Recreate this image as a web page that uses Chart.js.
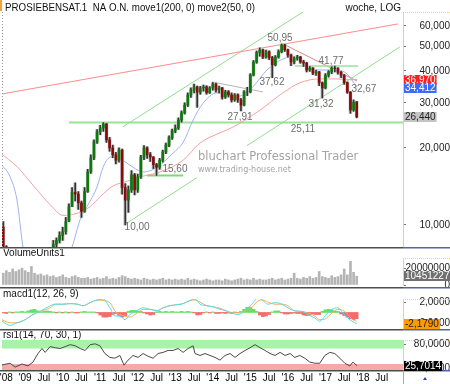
<!DOCTYPE html>
<html>
<head>
<meta charset="utf-8">
<script src="https://cdn.jsdelivr.net/npm/chart.js@4.4.1/dist/chart.umd.min.js"></script>
<style>
  html, body { margin: 0; padding: 0; background: #fff; }
  #wrap { position: relative; width: 450px; height: 384px; overflow: hidden; }
  #wrap canvas { position: absolute; left: 0; }
</style>
</head>
<body>
<div id="wrap">
  <canvas id="priceChart" width="450" height="249" style="top:0"></canvas>
  <canvas id="volChart" width="450" height="40" style="top:249px"></canvas>
  <canvas id="macdChart" width="450" height="42" style="top:289px"></canvas>
  <canvas id="rsiChart" width="450" height="53" style="top:331px"></canvas>
</div>
<script>
const FONT = '"Liberation Sans", Arial, sans-serif';
Chart.defaults.font.family = FONT;
Chart.defaults.font.size = 10;
Chart.defaults.color = "#222";

// months counted from Jan 2008 (0 = Jan '08), one candle per month from Jun 2008
const startMonth = 5;
const firstOpen = 9.8;
const closes = [
  8.2, 6.5, 5.8, 4.8, 3.2, 2.2, 2.6, 1.9, 1.1, 1.3, 2.1, 3.0, 3.4, 4.3, 5.6, 6.9,
  8.4, 8.7, 9.1, 9.4, 10.3, 11.8, 13.4, 13.2, 12.2, 11.3,
  13.5, 16.1, 18.3, 21.1, 23.1, 23.9, 24.8, 21.5, 20.0, 18.8,
  17.9, 19.6, 14.0, 12.5, 13.7, 15.7, 13.7, 15.4, 18.4, 20.0,
  18.8, 18.4, 17.2, 16.8, 17.9, 19.3, 20.5, 21.9, 23.3, 23.9,
  25.7, 27.4, 29.4, 32.2, 33.7, 34.6, 33.0, 34.3, 34.6, 32.9,
  34.3, 35.5, 33.7, 34.3, 31.6, 33.1, 32.2, 30.8, 32.2, 30.8,
  29.4, 33.1, 33.1, 38.5, 43.3, 47.1, 48.3, 45.3, 47.5, 45.0,
  42.2, 45.3, 47.5, 50.5, 48.3, 46.1, 43.3, 44.8, 45.3, 43.3,
  42.9, 40.3, 41.0, 39.2, 39.6, 35.9, 34.3, 38.5, 39.6, 41.0,
  40.8, 39.5, 38.5, 36.0, 33.0, 28.1, 30.2, 26.44
];
const highs = [
  10.3, 8.3, 6.9, 6.1, 5.0, 3.4, 2.9, 2.8, 2.0, 1.5, 2.3, 3.2, 3.7, 4.5, 5.8, 7.2,
  8.7, 8.9, 9.4, 9.8, 10.7, 12.1, 14.0, 14.6, 13.5, 12.4,
  14.0, 16.5, 18.8, 21.5, 23.6, 24.5, 25.11, 24.9, 22.0, 20.5,
  19.2, 20.0, 19.8, 14.5, 14.2, 16.3, 15.9, 15.8, 18.7, 20.4,
  20.2, 19.2, 18.5, 17.4, 18.2, 19.6, 20.9, 22.3, 23.7, 24.6,
  26.2, 27.9, 30.0, 32.8, 34.3, 35.5, 34.9, 34.8, 35.2, 35.0,
  34.7, 36.0, 35.8, 34.9, 34.5, 33.6, 33.5, 32.8, 32.6, 32.5,
  31.2, 33.5, 34.5, 39.0, 43.9, 47.8, 49.2, 48.6, 48.2, 47.9,
  45.6, 45.9, 48.3, 50.95, 50.8, 48.6, 46.5, 45.4, 46.0, 45.6,
  44.0, 43.2, 41.6, 41.2, 40.2, 39.8, 36.2, 39.0, 40.1, 41.5,
  41.77, 41.2, 39.8, 38.7, 36.2, 33.2, 30.8, 30.4
];
const lows = [
  8.0, 6.2, 5.3, 4.5, 3.0, 2.0, 1.9, 1.7, 0.9, 1.0, 1.3, 2.0, 2.9, 3.3, 4.2, 5.5,
  6.8, 8.1, 8.5, 8.7, 9.2, 10.4, 11.8, 12.4, 11.5, 10.7,
  11.2, 13.4, 15.9, 18.0, 20.8, 22.5, 23.2, 21.0, 19.4, 18.3,
  17.3, 17.6, 13.2, 10.0, 11.2, 13.4, 13.1, 13.4, 15.2, 18.0,
  18.2, 17.7, 16.6, 15.6, 16.5, 17.6, 19.0, 20.2, 21.6, 22.9,
  23.6, 25.2, 27.1, 29.0, 31.5, 32.8, 28.8, 32.4, 33.3, 32.4,
  32.6, 33.6, 33.0, 32.8, 31.0, 31.2, 31.6, 30.2, 30.4, 30.1,
  27.91, 29.2, 32.0, 32.8, 38.2, 42.8, 45.6, 44.6, 44.8, 44.2,
  37.62, 41.8, 44.8, 47.0, 47.6, 45.2, 41.9, 42.6, 44.0, 42.8,
  41.6, 39.6, 39.8, 38.6, 38.4, 35.0, 31.32, 34.0, 37.8, 39.0,
  39.6, 38.8, 37.6, 35.4, 32.67, 27.3, 27.8, 26.2
];
// volume in millions of units
const volumes = [
  14, 17, 15, 19, 16, 18, 20, 17, 15, 22, 14, 12, 13, 11, 12, 10,
  11, 9, 10, 12, 9, 8, 10, 11, 9, 8,
  8, 9, 7, 8, 9, 7, 8, 10, 7, 8, 7, 9, 11, 10, 8,
  7, 8, 7, 6, 8, 7, 6, 7, 6, 7, 8, 6, 7, 6, 7,
  6, 7, 6, 8, 6, 7, 6, 5, 6, 7, 6, 5, 6, 6, 5, 7, 6, 5, 6, 7,
  8, 6, 7, 6, 8, 6, 7, 6, 6, 7, 8, 6, 7, 8, 6, 7, 8,
  14, 8, 7, 9, 8, 10, 8, 9, 16, 10, 9, 8, 11, 9, 10, 12, 19, 12, 28, 15, 10.451227
];
const macdHist = [
  -0.1, -0.2, 0.1, -0.1, 0.1, 0.1, 0.2, 0.1, 0.3, 0.5, 0.6, 0.3, 0.1, 0.2, 0.3, 0.2,
  0.1, -0.1, 0.1, -0.1, 0.1, -0.1, 0.1, -0.1, -0.1, 0.1,
  0.2, 0.1, 0.1, 0.1, -0.1, -0.5, -0.9, -0.9, -0.8, -0.4, -0.2, -0.6, -0.9, -0.7, 0.2,
  0.4, 0.4, 0.3, 0.2, -0.1, -0.3, -0.5, -0.4, 0.1, 0.2, 0.1, 0.2, 0.1, 0.2, 0.1,
  0.1, 0.2, 0.1, 0.2, 0.1, -0.1, -0.5, -0.4, -0.1, 0.1, -0.1, 0.1, -0.2, -0.2, -0.1, -0.2, -0.1, -0.2, 0.1, -0.1,
  0.2, 0.6, 1.0, 1.0, 0.6, 0.2, -0.5, -0.8, -0.7, -0.4, 0.1, 0.3, 0.3, -0.1, -0.3, -0.3, -0.2,
  -0.1, -0.2, -0.2, -0.5, -0.6, -0.5, -0.3, -0.4, -0.4, 0.2, 0.5, 0.6, 0.5, 0.3, 0.2, -0.3, -0.6, -0.9, -1.2, -1.4, -1.2
];

const ma200Months = [4, 9.4, 14.5, 20, 24.1, 28.6, 32.8, 36, 40.1, 44.6, 48.7, 55.1, 62.5, 67.9, 74.3, 78.4, 87.1, 94.4, 99.8, 106.2, 111.7, 115.8, 118.1];
const ma200Values = [19.1, 16.9, 14.3, 12.0, 10.9, 11.1, 11.8, 12.9, 14.2, 14.8, 15.4, 16.1, 17.9, 20.9, 22.9, 24.1, 28.1, 32.8, 35.9, 37.2, 37.2, 36.9, 36.97];
const ma50Months = [4, 7.2, 9.4, 11.3, 15.2, 21.6, 27, 29.6, 31.8, 35, 36.9, 39.1, 41.4, 43.3, 46.5, 49.7, 54.2, 59.3, 62.5, 65.7, 68.9, 73.3, 78.4, 81.6, 84.8, 89.3, 94.4, 97.6, 100.8, 106.2, 111.7, 114.9, 118.1];
const ma50Values = [17.4, 15.4, 12.5, 8.2, 5.0, 5.8, 8.2, 10.5, 11.8, 14.1, 16.8, 18.4, 18.6, 17.9, 16.8, 16.1, 16.8, 19.1, 21.0, 25.7, 29.9, 32.8, 31.6, 32.2, 34.6, 40.3, 44.5, 45.3, 42.9, 40.3, 40.3, 38.9, 34.412];

const macdMonths = [4.6, 7.2, 9.4, 12, 14.5, 16.8, 20, 21.6, 24.1, 26.4, 28.6, 30.5, 32.8, 35, 36.9, 39.1, 40.7, 42.3, 43.9, 45.5, 47.8, 49.7, 51.9, 54.2, 56.1, 58.3, 60.5, 62.5, 64.7, 66.3, 67.9, 70.1, 72, 74.3, 75.9, 78.1, 80, 82.3, 84.5, 86.4, 88, 89.6, 91.9, 94.1, 96, 98.2, 100.5, 102.4, 104.6, 106.2, 107.8, 110.1, 112, 113.6, 115.2, 116.5, 118];
const macdValues = [-1.7, -2.5, -2.0, -1.4, -0.4, 0.2, 1.3, 1.6, 1.6, 1.7, 1.6, 1.3, 1.9, 2.4, 2.6, 0.9, -0.7, -0.7, -1.4, -0.4, 0.4, 0.9, 0.6, 0.3, 0.9, 1.3, 1.5, 1.7, 2.3, 2.6, 1.6, 1.3, 1.1, 0.6, 0.4, -0.1, -0.4, 0.3, 1.6, 2.8, 2.3, 1.6, 1.9, 1.6, 0.9, 0.3, 0.2, -0.4, -1.1, -1.7, -0.7, 0.6, 0.9, -0.1, -1.1, -1.7, -2.179];
const signalValues = [-1.4, -2.0, -2.0, -1.4, -0.4, 0.2, 0.9, 1.6, 1.6, 1.7, 1.6, 1.3, 1.9, 2.4, 2.3, 1.9, 0.3, -0.4, -0.7, -0.9, -0.1, 0.6, 0.6, 0.4, 0.9, 1.3, 1.5, 1.7, 2.3, 2.4, 2.0, 1.3, 1.1, 0.8, 0.4, -0.1, 0, 0.3, 1.0, 2.2, 2.4, 2.0, 1.6, 1.6, 1.3, 0.3, 0.2, -0.1, -0.7, -1.4, -1.3, -0.1, 0.6, 0.4, -0.4, -1.3, -1.7];

const rsiMonths = [4.6, 7.2, 8.8, 11.0, 12.9, 14.5, 16.1, 17.4, 18.4, 20.0, 21.6, 23.2, 24.8, 26.4, 28.0, 29.6, 31.2, 32.8, 34.4, 35.9, 37.5, 39.1, 40.7, 42.3, 43.6, 44.9, 46.5, 48.1, 49.7, 51.3, 52.9, 54.5, 56.1, 57.7, 59.3, 60.9, 62.5, 64.1, 65.7, 66.3, 67.9, 69.5, 71.1, 72.7, 74.3, 75.9, 77.5, 79.1, 80.7, 82.3, 83.9, 85.5, 87.1, 88.7, 90.3, 91.9, 93.5, 95.1, 96.7, 98.2, 99.8, 101.4, 103.0, 104.6, 106.2, 107.8, 109.4, 111.0, 112.6, 114.2, 115.8, 116.8, 118.1];
const rsiValues = [27.5, 32, 22, 30, 25, 35, 57, 70, 60, 75, 72, 70, 75, 80, 77, 70, 65, 80, 82, 77, 57, 47, 45, 52, 27, 40, 52, 47, 57, 50, 45, 57, 60, 65, 65, 70, 60, 70, 77, 57, 52, 57, 52, 47, 40, 52, 57, 47, 57, 65, 72, 80, 72, 65, 57, 52, 60, 52, 57, 47, 52, 45, 35, 32, 32, 52, 60, 57, 45, 32, 25, 35, 25.7014];

// drawn trend lines: [month, price] end points
const redTrend = [[4.6, 32.5], [131.2, 61.0]];
const greenUpper = [[43.3, 24.2], [100.8, 67.9]];
const greenLowerA = [[43.6, 10.0], [66.9, 15.3]];
const greenLowerB = [[82.9, 20.4], [131.8, 49.6]];
const level2511 = [[26.0, 25.11], [132.8, 25.11]];
const level1560 = [[51.0, 15.60], [62.5, 15.60]];
const level4177 = [[98.2, 41.77], [118.4, 41.77]];
const grayResist = [[71.7, 36.2], [88.0, 33.1]];
const downTrend = [[94.4, 51.0], [118.1, 36.5]];
const priceNotes = [
  ["50,95", 93.5, 53.8], ["37,62", 90.9, 36.2], ["27,91", 80.7, 26.4],
  ["41,77", 109.8, 43.7], ["31,32", 106.6, 29.7], ["32,67", 120.3, 34.0],
  ["25,11", 100.8, 23.7], ["15,60", 59.9, 16.55], ["10,00", 47.8, 9.82]
];

const priceTicks = [10, 20, 30, 40, 50, 60];
const xTickMonths = [6, 12, 18, 24, 30, 36, 42, 48, 54, 60, 66, 72, 78, 84, 90, 96, 102, 108, 114, 120, 126];
const xTickLabels = ["'08", "'09", "Jul", "'10", "Jul", "'11", "Jul", "'12", "Jul", "'13", "Jul", "'14", "Jul", "'15", "Jul", "'16", "Jul", "'17", "Jul", "'18", "Jul"];
const xMin = 4.6, xMax = 132.8;

const months = closes.map((c, i) => startMonth + i);
const opens = closes.map((c, i) => (i === 0 ? firstOpen : closes[i - 1]));
const pts = (xs, ys) => xs.map((x, i) => ({ x: x, y: ys[i] }));
const seg = (p) => p.map((q) => ({ x: q[0], y: q[1] }));
const fmt = (v, d) => v.toFixed(d).replace(".", ",");

const xHidden = { type: "linear", min: xMin, max: xMax, offset: false, display: false };
const yRight = (extra) => Object.assign({
  position: "right",
  afterFit: (a) => { a.width = 47; a.paddingTop = 0; a.paddingBottom = 0; },
  border: { display: true, color: "#e6d38c", dash: [1, 1] },
  grid: { drawOnChartArea: false, tickLength: 3, color: "#777" },
}, extra);

const panelDeco = {
  id: "panelDeco",
  beforeDatasetsDraw(chart, args, o) {
    if (!o.bands) return;
    const { ctx, chartArea: a, scales: { y } } = chart;
    o.bands.forEach((b) => {
      const y1 = y.getPixelForValue(Math.min(b[1], y.max));
      const y2 = y.getPixelForValue(Math.max(b[0], y.min));
      ctx.fillStyle = b[2];
      ctx.fillRect(a.left, y1, a.right - a.left, y2 - y1);
    });
  },
  afterDraw(chart, args, o) {
    const { ctx, chartArea: a, width, scales: { y } } = chart;
    ctx.save();
    ctx.strokeStyle = "#e6d38c";
    ctx.lineWidth = 1;
    ctx.setLineDash([1, 1]);
    ctx.beginPath(); ctx.moveTo(a.right, a.top + 0.5); ctx.lineTo(width, a.top + 0.5); ctx.stroke();
    ctx.setLineDash([]);
    ctx.lineWidth = 1.5;
    ctx.strokeStyle = "#4d4d4d";
    ctx.beginPath(); ctx.moveTo(0, o.sepY); ctx.lineTo(a.right, o.sepY); ctx.stroke();
    ctx.strokeStyle = "#5663a8";
    ctx.beginPath(); ctx.moveTo(a.right, o.sepY); ctx.lineTo(width, o.sepY); ctx.stroke();
    ctx.font = "10px " + FONT;
    ctx.textBaseline = "middle";
    ctx.textAlign = "left";
    if (o.label) { ctx.fillStyle = "#111"; ctx.fillText(o.label, 3, o.labelY); }
    (o.boxes || []).forEach((b) => {
      const py = Math.round(y.getPixelForValue(b.value));
      const w = ctx.measureText(b.text).width + 2;
      ctx.fillStyle = b.bg;
      ctx.fillRect(a.right + 1, py - 5, w, 10);
      ctx.fillStyle = b.fg;
      ctx.fillText(b.text, a.right + 2, py + 0.5);
    });
    if (o.footer) {
      ctx.strokeStyle = "#aaa";
      ctx.lineWidth = 1;
      ctx.beginPath(); ctx.moveTo(a.right + 0.5, o.sepY); ctx.lineTo(a.right + 0.5, chart.height); ctx.stroke();
      ctx.fillStyle = "#2244cc";
      ctx.beginPath(); ctx.moveTo(425, 46); ctx.lineTo(427, 49); ctx.lineTo(423, 49); ctx.closePath(); ctx.fill();
    }
    ctx.restore();
  },
};

const priceDeco = {
  id: "priceDeco",
  afterDatasetsDraw(chart) {
    const { ctx, scales: { x, y } } = chart;
    ctx.save();
    ctx.font = "10px " + FONT;
    ctx.fillStyle = "#6e6e6e";
    ctx.textAlign = "center";
    ctx.textBaseline = "middle";
    priceNotes.forEach((n) => ctx.fillText(n[0], x.getPixelForValue(n[1]), y.getPixelForValue(n[2])));
    ctx.textAlign = "left";
    ctx.fillStyle = "#a4a4a4";
    ctx.font = '11.5px "DejaVu Sans", sans-serif';
    ctx.fillText("bluchart Professional Trader", 198, 157);
    ctx.font = '8px "DejaVu Sans", sans-serif';
    ctx.fillText("www.trading-house.net", 198, 170);
    ctx.restore();
  },
  afterDraw(chart) {
    const { ctx, chartArea: a } = chart;
    ctx.save();
    ctx.fillStyle = "#f2a33a";
    ctx.fillRect(0, 0, 2, 11);
    ctx.strokeStyle = "#9a9a9a";
    ctx.setLineDash([1, 2]);
    ctx.beginPath(); ctx.moveTo(2.5, a.top); ctx.lineTo(2.5, a.bottom); ctx.stroke();
    ctx.setLineDash([]);
    ctx.font = "10px " + FONT;
    ctx.fillStyle = "#111";
    ctx.textBaseline = "middle";
    ctx.textAlign = "left";
    ctx.fillText("PROSIEBENSAT.1  NA O.N. move1(200, 0) move2(50, 0)", 5, 8, 250);
    ctx.textAlign = "right";
    ctx.fillText("woche, LOG", 401, 8);
    ctx.restore();
  },
};

const lineDs = (data, color, width, order, smooth) => ({
  type: "line", data: data, borderColor: color, borderWidth: width, pointRadius: 0,
  fill: false, order: order, cubicInterpolationMode: smooth ? "monotone" : "default", tension: 0,
});

const baseOpts = {
  responsive: false, animation: false, events: [], devicePixelRatio: 1,
  plugins: { legend: { display: false }, tooltip: { enabled: false } },
};
const yTickFont = (cb) => ({ crossAlign: "far", color: "#222", font: { size: 10 }, callback: cb });

new Chart(document.getElementById("priceChart"), {
  type: "bar",
  data: {
    datasets: [
      { data: months.map((m, i) => ({ x: m, y: [opens[i], closes[i]] })), barThickness: 2, grouped: false, order: 1,
        backgroundColor: closes.map((c, i) => (c >= opens[i] ? "#0b7a0b" : "#8b0a0a")) },
      { data: months.map((m, i) => ({ x: m, y: [lows[i], highs[i]] })), barThickness: 1, grouped: false, order: 2, backgroundColor: "#333" },
      { data: months.map((m, i) => ({ x: m, y: [lows[i], highs[i]] })), barThickness: 3, grouped: false, order: 3, backgroundColor: "#c8c8c8" },
      lineDs(pts(ma50Months, ma50Values), "#9db2f5", 1, 4, true),
      lineDs(pts(ma200Months, ma200Values), "#f7a0a0", 1, 5, true),
      lineDs(seg(redTrend), "#ff8a8a", 1, 6),
      lineDs(seg(greenUpper), "#8fdc8f", 1, 6),
      lineDs(seg(greenLowerA), "#8fdc8f", 1, 6),
      lineDs(seg(greenLowerB), "#8fdc8f", 1, 6),
      lineDs(seg(level2511), "#96e596", 2, 6),
      lineDs(seg(level1560), "#7ad87a", 2, 6),
      lineDs(seg(level4177), "#96e596", 1.5, 6),
      lineDs(seg(grayResist), "#b5b5b5", 1, 6),
      lineDs(seg(downTrend), "#d48a8a", 1, 6),
    ],
  },
  options: Object.assign({}, baseOpts, {
    layout: { padding: { left: 2, right: 0, top: 12, bottom: 2 } },
    scales: {
      x: xHidden,
      y: yRight({
        type: "logarithmic", min: 8.2, max: 67.9,
        afterBuildTicks: (a) => { a.ticks = priceTicks.map((v) => ({ value: v })); },
        ticks: yTickFont((v) => fmt(v, 3)),
      }),
    },
    plugins: Object.assign({}, baseOpts.plugins, {
      panelDeco: {
        sepY: 247.75,
        boxes: [
          { value: ma200Values[ma200Values.length - 1], text: fmt(ma200Values[ma200Values.length - 1], 3), bg: "#ff1e1e", fg: "#fff" },
          { value: ma50Values[ma50Values.length - 1], text: fmt(ma50Values[ma50Values.length - 1], 3), bg: "#3a6cff", fg: "#fff" },
          { value: closes[closes.length - 1], text: fmt(closes[closes.length - 1], 3), bg: "#c4c4c4", fg: "#222" },
        ],
      },
    }),
  }),
  plugins: [panelDeco, priceDeco],
});

new Chart(document.getElementById("volChart"), {
  type: "bar",
  data: { datasets: [{ data: pts(months, volumes), barThickness: 2, backgroundColor: "#b4b4b4" }] },
  options: Object.assign({}, baseOpts, {
    layout: { padding: { left: 2, right: 0, top: 9, bottom: 4 } },
    scales: {
      x: xHidden,
      y: yRight({
        min: 0, max: 32,
        afterBuildTicks: (a) => { a.ticks = [0, 20].map((v) => ({ value: v })); },
        ticks: yTickFont((v) => String(v * 1000000)),
      }),
    },
    plugins: Object.assign({}, baseOpts.plugins, {
      panelDeco: {
        sepY: 38.75, label: "VolumeUnits1", labelY: 4.5,
        boxes: [{ value: volumes[volumes.length - 1], text: String(Math.round(volumes[volumes.length - 1] * 1000000)), bg: "#707070", fg: "#fff" }],
      },
    }),
  }),
  plugins: [panelDeco],
});

new Chart(document.getElementById("macdChart"), {
  type: "bar",
  data: {
    datasets: [
      lineDs(pts(macdMonths, macdValues), "#4fdcef", 1, 1, true),
      lineDs(pts(macdMonths, signalValues), "#f5ae5a", 1, 2, true),
      { data: pts(months, macdHist), barThickness: 3, order: 3,
        backgroundColor: macdHist.map((v) => (v >= 0 ? "#62e062" : "#f46c6c")) },
    ],
  },
  options: Object.assign({}, baseOpts, {
    layout: { padding: { left: 2, right: 0, top: 10, bottom: 2 } },
    scales: {
      x: xHidden,
      y: yRight({
        min: -3.2, max: 2.6,
        afterBuildTicks: (a) => { a.ticks = [-2, 2].map((v) => ({ value: v })); },
        ticks: yTickFont((v) => fmt(v, 4)),
      }),
    },
    plugins: Object.assign({}, baseOpts.plugins, {
      panelDeco: {
        sepY: 40.75, label: "macd1(12, 26, 9)", labelY: 5.5,
        boxes: [{ value: macdValues[macdValues.length - 1], text: fmt(macdValues[macdValues.length - 1], 4), bg: "#ff9a00", fg: "#222" }],
      },
    }),
  }),
  plugins: [panelDeco],
});

new Chart(document.getElementById("rsiChart"), {
  type: "line",
  data: { datasets: [lineDs(pts(rsiMonths, rsiValues), "#4a4a4a", 1, 1)] },
  options: Object.assign({}, baseOpts, {
    layout: { padding: { left: 2, right: 0, top: 9, bottom: 0 } },
    scales: {
      x: {
        type: "linear", min: xMin, max: xMax, offset: false, position: "bottom",
        grid: { display: false, drawTicks: false }, border: { display: false },
        afterBuildTicks: (a) => { a.ticks = xTickMonths.map((v) => ({ value: v })); },
        afterFit: (a) => { a.height = 14; a.paddingLeft = 0; a.paddingRight = 0; },
        ticks: { autoSkip: false, maxRotation: 0, padding: 2, color: "#000", font: { size: 10 },
          callback: (v, i) => xTickLabels[i] },
      },
      y: yRight({
        min: 14.5, max: 92,
        afterBuildTicks: (a) => { a.ticks = [20, 80].map((v) => ({ value: v })); },
        ticks: yTickFont((v) => fmt(v, 4)),
      }),
    },
    plugins: Object.assign({}, baseOpts.plugins, {
      panelDeco: {
        sepY: 39.75, label: "rsi1(14, 70, 30, 1)", labelY: 4.5, footer: true,
        bands: [[70, 100, "#a9f2a9"], [0, 30, "#f6a9a9"]],
        boxes: [{ value: rsiValues[rsiValues.length - 1], text: fmt(rsiValues[rsiValues.length - 1], 4), bg: "#000", fg: "#fff" }],
      },
    }),
  }),
  plugins: [panelDeco],
});
</script>
</body>
</html>
